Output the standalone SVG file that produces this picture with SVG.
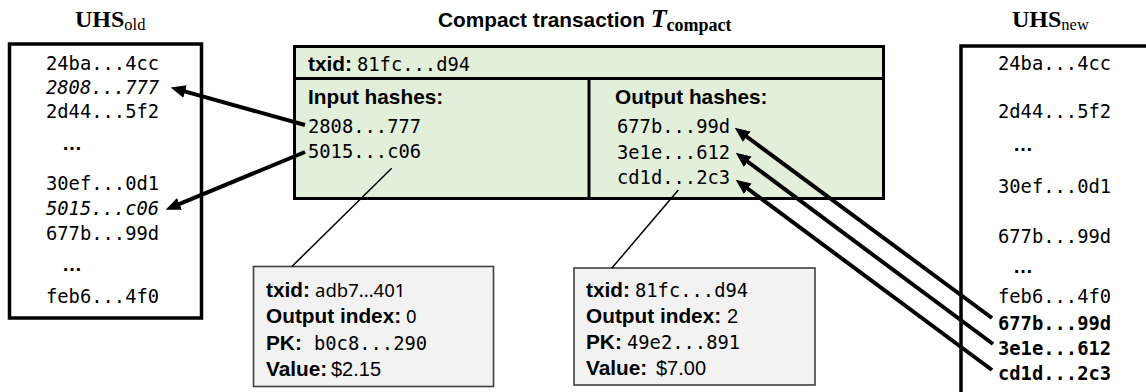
<svg xmlns="http://www.w3.org/2000/svg" width="1146" height="392" viewBox="0 0 1146 392">
<style>
.mono{font-family:"DejaVu Sans Mono",monospace;font-size:18.8px;fill:#000}
.it{font-style:italic}
.mb{font-weight:bold}
.lbl{font-family:"Liberation Sans",Arial,sans-serif;font-weight:bold;font-size:20.8px;fill:#000}
.sans{font-family:"Liberation Sans",Arial,sans-serif;font-size:20px;fill:#000}
.cal{font-family:"Noto Sans",sans-serif;font-size:18.5px;fill:#000}
.ser{font-family:"Liberation Serif","Times New Roman",serif;fill:#000}
.dots{font-family:"Liberation Sans",Arial,sans-serif;font-weight:bold;font-size:20px;fill:#000}
.box{fill:#fff;stroke:#000;stroke-width:3.5}
.cbox{fill:#e2efda;stroke:#000;stroke-width:3}
.ibox{fill:#f2f2f2;stroke:#404040;stroke-width:1.6}
.arr{stroke:#000;stroke-width:4;fill:none;marker-end:url(#ah)}
.thin{stroke:#000;stroke-width:1.5;fill:none}
</style>
<defs>
<marker id="ah" viewBox="0 0 14 12" refX="9" refY="6" markerWidth="15" markerHeight="13" markerUnits="userSpaceOnUse" orient="auto">
<path d="M0,0 L14,6 L0,12 z" fill="#000"/>
</marker>
</defs>

<g id="uhs-old">
<text class="ser" x="75" y="27"><tspan font-weight="bold" font-size="24">UHS</tspan><tspan font-size="16.5" dy="3">old</tspan></text>
<rect class="box" x="9.5" y="44" width="192" height="274"/>
<text class="mono" x="46" y="70">24ba...4cc</text>
<text class="mono it" x="46" y="94">2808...777</text>
<text class="mono" x="46" y="118">2d44...5f2</text>
<text class="dots" x="62" y="150">…</text>
<text class="mono" x="46" y="190">30ef...0d1</text>
<text class="mono it" x="46" y="215">5015...c06</text>
<text class="mono" x="46" y="240">677b...99d</text>
<text class="dots" x="62" y="271">…</text>
<text class="mono" x="46" y="303">feb6...4f0</text>
</g>

<g id="compact">
<text x="438" y="27"><tspan class="lbl" font-size="23">Compact transaction </tspan><tspan class="ser" font-weight="bold" font-style="italic" font-size="26">T</tspan><tspan class="ser" font-weight="bold" font-size="18" dy="4">compact</tspan></text>
<rect class="cbox" x="294.5" y="46.5" width="589" height="152"/>
<line x1="294.5" y1="78.5" x2="883.5" y2="78.5" stroke="#000" stroke-width="3"/>
<line x1="589" y1="78.5" x2="589" y2="198.5" stroke="#000" stroke-width="3"/>
<text x="308" y="71"><tspan class="lbl">txid:</tspan><tspan class="mono" x="357">81fc...d94</tspan></text>
<text class="lbl" x="308" y="104">Input hashes:</text>
<text class="mono" x="308" y="133">2808...777</text>
<text class="mono" x="308" y="158">5015...c06</text>
<text class="lbl" x="615" y="104">Output hashes:</text>
<text class="mono" x="617" y="133">677b...99d</text>
<text class="mono" x="617" y="159">3e1e...612</text>
<text class="mono" x="617" y="184">cd1d...2c3</text>
</g>

<g id="uhs-new">
<text class="ser" x="1012" y="27"><tspan font-weight="bold" font-size="24">UHS</tspan><tspan font-size="16.5" dy="3">new</tspan></text>
<rect class="box" x="961" y="46" width="200" height="360"/>
<text class="mono" x="998" y="70">24ba...4cc</text>
<text class="mono" x="998" y="118">2d44...5f2</text>
<text class="dots" x="1013" y="151">…</text>
<text class="mono" x="998" y="193">30ef...0d1</text>
<text class="mono" x="998" y="243">677b...99d</text>
<text class="dots" x="1013" y="273">…</text>
<text class="mono" x="998" y="303">feb6...4f0</text>
<text class="mono mb" x="998" y="330">677b...99d</text>
<text class="mono mb" x="998" y="355">3e1e...612</text>
<text class="mono mb" x="998" y="380">cd1d...2c3</text>
</g>

<g id="input-detail">
<rect class="ibox" x="253.5" y="266.5" width="240" height="120"/>
<text x="266" y="297"><tspan class="lbl">txid:</tspan><tspan class="cal" x="315">adb7...401</tspan></text>
<text x="266" y="323"><tspan class="lbl">Output index:</tspan><tspan class="cal" x="406">0</tspan></text>
<text x="266" y="350"><tspan class="lbl">PK:</tspan><tspan class="mono" x="314">b0c8...290</tspan></text>
<text x="266" y="376"><tspan class="lbl">Value:</tspan><tspan class="sans" x="331">$2.15</tspan></text>
</g>

<g id="output-detail">
<rect class="ibox" x="574" y="268" width="241" height="117"/>
<text x="586" y="297"><tspan class="lbl">txid:</tspan><tspan class="mono" x="635">81fc...d94</tspan></text>
<text x="586" y="323"><tspan class="lbl">Output index:</tspan><tspan class="sans" x="727">2</tspan></text>
<text x="586" y="349"><tspan class="lbl">PK:</tspan><tspan class="mono" x="627">49e2...891</tspan></text>
<text x="586" y="375"><tspan class="lbl">Value:</tspan><tspan class="sans" x="656">$7.00</tspan></text>
</g>

<g id="connectors">
<line class="arr" x1="305" y1="125" x2="175.8" y2="88.9"/>
<line class="arr" x1="305" y1="152" x2="170.6" y2="207.6"/>
<line class="arr" x1="992" y1="318" x2="739" y2="131"/>
<line class="arr" x1="993" y1="344" x2="740" y2="156"/>
<line class="arr" x1="992" y1="370" x2="740" y2="183"/>
<line class="thin" x1="391.7" y1="168.3" x2="291.7" y2="266.7"/>
<line class="thin" x1="678.3" y1="190" x2="611.7" y2="268.3"/>
</g>
</svg>
